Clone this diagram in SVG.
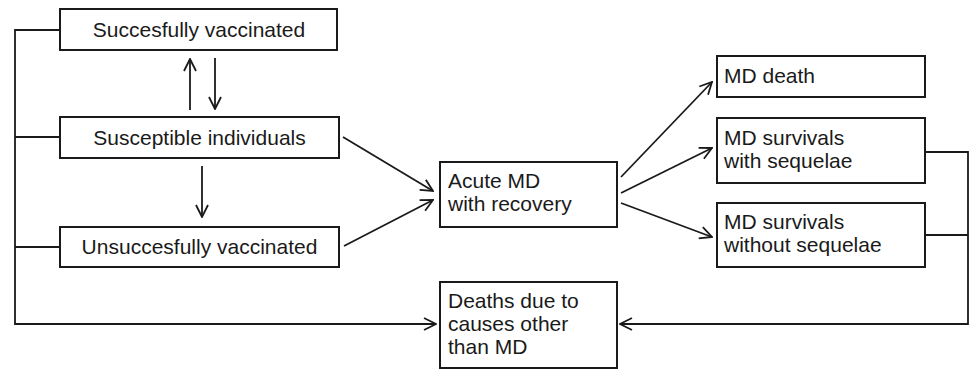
<svg xmlns="http://www.w3.org/2000/svg" width="969" height="369" viewBox="0 0 969 369">
<style>
rect{fill:#fff;stroke:#1a1a1a;stroke-width:2}
text{font-family:"Liberation Sans",Arial,sans-serif;font-size:21px;fill:#1a1a1a}
.c{text-anchor:middle}
#connectors path,#connectors line{fill:none;stroke:#1a1a1a;stroke-width:1.8}
</style>
<defs>
<marker id="ah" viewBox="0 0 14 14" refX="13" refY="7" markerWidth="14" markerHeight="14" markerUnits="userSpaceOnUse" orient="auto">
<path d="M1,1 L13,7 L1,13" fill="none" stroke="#1a1a1a" stroke-width="1.8"/>
</marker>
</defs>
<rect width="969" height="369" style="fill:#fff;stroke:none"/>
<g id="connectors">
<path d="M60,30 H15 V324 H436" marker-end="url(#ah)"/>
<line x1="15" y1="137" x2="60" y2="137"/>
<line x1="15" y1="247" x2="60" y2="247"/>
<line x1="190" y1="110" x2="190" y2="59" marker-end="url(#ah)"/>
<line x1="215" y1="58" x2="215" y2="109" marker-end="url(#ah)"/>
<line x1="202" y1="166" x2="202" y2="217" marker-end="url(#ah)"/>
<line x1="343" y1="137" x2="433" y2="191" marker-end="url(#ah)"/>
<line x1="344" y1="246" x2="433" y2="200" marker-end="url(#ah)"/>
<line x1="621" y1="177" x2="712" y2="82" marker-end="url(#ah)"/>
<line x1="621" y1="193" x2="712" y2="148" marker-end="url(#ah)"/>
<line x1="621" y1="203" x2="712" y2="237" marker-end="url(#ah)"/>
<path d="M925,152 H968 V324 H620" marker-end="url(#ah)"/>
<line x1="925" y1="235" x2="968" y2="235"/>
</g>
<g id="succ"><rect x="60" y="9" width="277" height="41"/><text class="c" x="199" y="37">Succesfully vaccinated</text></g>
<g id="susc"><rect x="60" y="117" width="279" height="41"/><text class="c" x="199.5" y="145">Susceptible individuals</text></g>
<g id="unsucc"><rect x="60" y="227" width="279" height="40"/><text class="c" x="199.5" y="254">Unsuccesfully vaccinated</text></g>
<g id="acute"><rect x="440" y="162" width="177" height="65"/><text x="448" y="188">Acute MD</text><text x="448" y="211">with recovery</text></g>
<g id="deaths"><rect x="440" y="282" width="177" height="86"/><text x="448" y="308">Deaths due to</text><text x="448" y="331">causes other</text><text x="448" y="354">than MD</text></g>
<g id="mddeath"><rect x="717" y="56" width="208" height="41"/><text x="724" y="83">MD death</text></g>
<g id="mdwith"><rect x="717" y="118" width="208" height="65"/><text x="724" y="145">MD survivals</text><text x="724" y="168">with sequelae</text></g>
<g id="mdwithout"><rect x="717" y="203" width="208" height="64"/><text x="724" y="229">MD survivals</text><text x="724" y="252">without sequelae</text></g>
</svg>
